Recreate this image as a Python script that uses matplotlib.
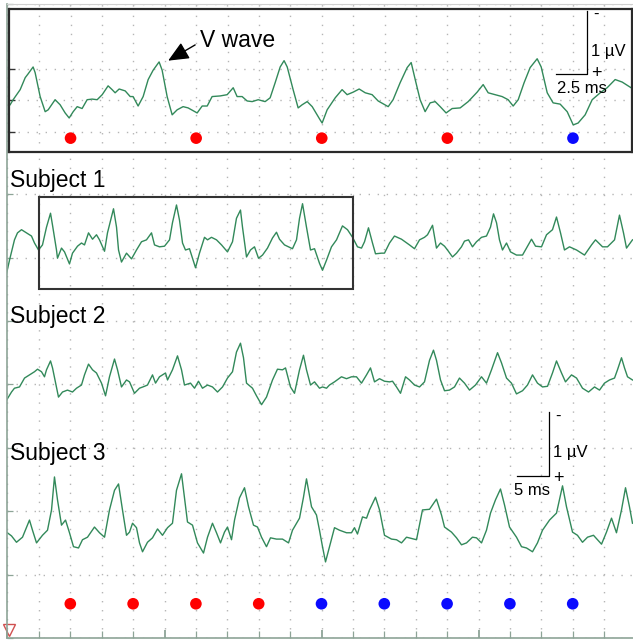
#!/usr/bin/env python3
"""
ABR traces for three subjects, with a zoomed window of Subject 1 on top
"""

import numpy as np
import matplotlib
matplotlib.use('Agg')
import matplotlib.pyplot as plt
from matplotlib.patches import Rectangle
from matplotlib.ticker import MultipleLocator

plt.rcParams['font.family'] = ['Liberation Sans', 'DejaVu Sans']

# ---- data (time in ms, amplitude in µV) ----
s1_t = [-0.2, 0.32, 1.11, 1.59, 2.23, 3.03, 3.82, 4.30, 4.94, 5.57, 6.21, 6.85, 7.17, 7.80, 7.96, 8.60,
        9.08, 9.87, 10.35, 11.15, 11.78, 12.26, 12.90, 13.54, 14.17, 14.65, 15.45, 15.92, 16.88, 17.36,
        17.68, 18.15, 18.95, 19.75, 20.54, 21.34, 22.13, 22.93, 23.41, 24.20, 25.0, 25.80, 26.27, 26.91,
        27.39, 27.87, 28.34, 28.98, 29.94, 30.57, 31.37, 31.85, 32.48, 33.28, 34.08, 35.03, 35.83, 36.46,
        37.10, 37.42, 38.06, 38.69, 39.33, 39.97, 40.61, 41.40, 42.20, 42.83, 43.31, 44.11, 44.75, 45.38,
        46.02, 46.50, 46.98, 47.61, 48.25, 48.89, 49.68, 50.16, 50.80, 51.59, 52.39, 52.87, 53.34, 54.14,
        54.94, 55.73, 56.37, 56.85, 57.48, 58.12, 58.60, 59.55, 60.03, 60.83, 61.62, 62.74, 64.01, 64.81,
        65.61, 66.40, 66.88, 67.68, 68.31, 68.95, 69.59, 70.06, 70.86, 71.50, 72.29, 72.77, 73.41, 74.04,
        74.68, 75.48, 76.27, 76.91, 77.39, 77.87, 78.34, 78.82, 79.46, 80.10, 81.05, 82.01, 82.64, 83.44,
        84.08, 85.03, 85.83, 86.78, 87.42, 88.06, 88.69, 89.49, 90.61, 91.88, 93.0, 93.63, 94.75, 95.54,
        96.66, 97.45, 98.09, 98.57, 99.52]
s1_v = [5.73, 5.96, 6.28, 6.39, 6.44, 6.39, 6.34, 6.23, 6.12, 6.20, 6.48, 6.70, 6.51, 6.12, 5.99, 6.15,
        6.09, 5.90, 6.07, 6.18, 6.23, 6.20, 6.39, 6.29, 6.36, 6.28, 6.10, 6.39, 6.77, 6.48,
        6.12, 5.93, 6.07, 5.98, 6.12, 6.25, 6.28, 6.39, 6.20, 6.17, 6.18, 6.28, 6.55, 6.83,
        6.59, 6.23, 6.12, 6.14, 5.84, 6.07, 6.32, 6.28, 6.32, 6.28, 6.20, 6.09, 6.25, 6.62,
        6.75, 6.48, 6.01, 6.12, 6.17, 5.99, 6.04, 6.15, 6.31, 6.40, 6.29, 6.20, 6.17, 6.14,
        6.28, 6.62, 6.85, 6.48, 6.12, 6.14, 5.91, 5.80, 5.96, 6.17, 6.28, 6.39, 6.50, 6.44,
        6.32, 6.17, 6.15, 6.25, 6.47, 6.23, 6.06, 6.07, 6.07, 6.23, 6.34, 6.29, 6.20, 6.14,
        6.28, 6.32, 6.36, 6.51, 6.15, 6.23, 6.18, 6.12, 6.01, 6.07, 6.17, 6.26, 6.28, 6.17,
        6.25, 6.32, 6.34, 6.48, 6.69, 6.55, 6.28, 6.12, 6.23, 6.09, 6.04, 6.04, 6.15, 6.29,
        6.18, 6.17, 6.36, 6.44, 6.64, 6.39, 6.12, 6.17, 6.12, 6.04, 6.20, 6.28, 6.17, 6.17,
        6.28, 6.67, 6.39, 6.15, 6.28]

s2_t = [-0.16, 0.64, 1.11, 1.91, 2.71, 3.50, 4.30, 4.78, 5.41, 5.89, 6.21, 6.85, 7.17, 7.80, 8.12, 8.76,
        9.55, 10.35, 10.99, 11.78, 12.26, 12.90, 13.54, 14.17, 14.97, 15.61, 16.24, 17.04, 17.52, 18.15,
        18.95, 19.43, 20.22, 21.02, 21.82, 22.29, 23.09, 23.57, 24.20, 25.16, 25.48, 26.27, 27.07, 27.71,
        28.18, 29.14, 29.78, 30.41, 31.05, 31.85, 32.64, 33.44, 34.24, 35.03, 35.83, 36.46, 37.10, 37.58,
        38.06, 39.01, 39.65, 40.45, 41.24, 42.20, 42.99, 43.79, 44.27, 45.06, 45.70, 46.50, 47.13, 47.61,
        48.25, 48.89, 49.68, 50.16, 50.80, 51.27, 52.07, 53.18, 53.98, 54.78, 55.57, 56.37, 57.17, 57.80,
        58.44, 59.24, 60.03, 60.83, 61.31, 61.94, 62.58, 63.38, 64.01, 64.81, 65.61, 66.40, 67.20, 67.83,
        68.31, 68.95, 69.59, 70.38, 71.18, 71.97, 72.77, 73.57, 74.52, 75.48, 76.27, 77.07, 78.03, 78.66,
        79.46, 80.25, 81.05, 82.01, 82.80, 83.60, 84.39, 85.19, 85.99, 86.78, 87.42, 88.22, 88.85, 89.81,
        90.61, 91.56, 92.52, 93.47, 94.27, 95.06, 95.86, 96.66, 97.13, 97.77, 98.25, 98.73, 99.52]
s2_v = [3.75, 3.88, 3.94, 3.96, 4.10, 4.15, 4.20, 4.24, 4.20, 4.12, 4.23, 4.37, 4.26, 3.96, 3.80, 3.88,
        3.91, 3.88, 3.94, 3.99, 4.15, 4.32, 4.23, 4.18, 4.02, 3.82, 4.12, 4.40, 4.23, 3.96,
        4.07, 4.04, 3.86, 3.94, 3.97, 3.99, 4.15, 4.02, 4.12, 4.18, 4.07, 4.23, 4.45, 4.23,
        3.99, 4.02, 3.94, 4.05, 3.94, 3.99, 3.96, 3.88, 3.96, 4.10, 4.20, 4.51, 4.65, 4.42,
        4.02, 3.94, 3.82, 3.68, 3.80, 4.07, 4.24, 4.23, 4.26, 3.96, 3.86, 4.23, 4.46, 4.23,
        3.99, 4.04, 3.94, 3.96, 3.94, 3.99, 4.04, 4.12, 4.09, 4.12, 4.12, 4.02, 4.15, 4.26,
        4.04, 4.09, 4.05, 4.04, 4.05, 3.96, 3.86, 4.12, 4.07, 3.99, 3.96, 4.04, 4.38, 4.54,
        4.38, 4.07, 3.90, 3.91, 3.96, 4.10, 4.02, 3.91, 3.99, 4.12, 4.02, 4.23, 4.50, 4.34,
        4.10, 4.02, 3.85, 3.90, 3.99, 4.15, 4.02, 3.96, 3.97, 4.18, 4.37, 4.18, 4.04, 4.15,
        4.10, 3.94, 3.88, 3.96, 3.91, 4.02, 4.07, 4.10, 4.23, 4.42, 4.26, 4.12, 4.07]

s3_t = [-0.16, 0.64, 1.43, 2.39, 3.50, 3.98, 4.62, 5.57, 6.37, 7.01, 7.48, 7.96, 8.60, 9.24, 9.87, 10.51,
        11.31, 11.94, 12.74, 13.85, 14.65, 15.45, 16.24, 17.04, 17.68, 18.31, 18.95, 19.43, 19.91, 20.54,
        21.02, 21.50, 22.29, 23.09, 23.89, 24.68, 25.48, 26.27, 26.91, 27.71, 28.18, 28.66, 29.46, 30.25,
        31.21, 31.85, 32.64, 33.28, 33.92, 34.55, 35.03, 35.67, 36.15, 36.94, 37.74, 38.38, 39.17, 39.81,
        40.45, 41.24, 41.88, 42.83, 43.79, 44.75, 45.38, 46.50, 47.13, 47.61, 48.41, 49.20, 49.68, 50.16,
        50.64, 51.27, 52.07, 52.87, 53.98, 54.78, 55.25, 55.73, 56.53, 57.17, 57.64, 58.60, 59.24, 60.03,
        61.15, 61.94, 62.74, 63.54, 65.13, 66.08, 67.20, 68.31, 69.11, 69.59, 70.70, 71.50, 72.29, 73.09,
        74.04, 74.68, 75.48, 76.27, 76.91, 77.71, 78.50, 79.14, 79.94, 81.05, 81.85, 82.64, 83.60, 84.39,
        85.19, 86.31, 87.42, 88.38, 89.01, 89.97, 90.76, 91.56, 92.36, 93.31, 94.59, 95.38, 96.18, 96.97,
        97.77, 98.41, 99.04, 99.52]
s3_v = [1.67, 1.61, 1.51, 1.59, 1.86, 1.70, 1.50, 1.62, 1.70, 2.02, 2.54, 2.18, 1.78, 1.86, 1.66, 1.44,
        1.42, 1.55, 1.59, 1.75, 1.66, 1.59, 2.02, 2.33, 2.43, 2.02, 1.62, 1.67, 1.81, 1.74,
        1.50, 1.36, 1.51, 1.58, 1.72, 1.62, 1.74, 1.81, 2.33, 2.59, 2.22, 1.83, 1.78, 1.50,
        1.34, 1.59, 1.81, 1.66, 1.50, 1.67, 1.75, 1.55, 1.86, 2.21, 2.37, 2.07, 1.78, 1.75,
        1.59, 1.44, 1.58, 1.56, 1.56, 1.50, 1.70, 1.89, 2.22, 2.51, 2.07, 1.94, 1.70, 1.44,
        1.20, 1.44, 1.74, 1.70, 1.66, 1.66, 1.74, 1.64, 1.91, 1.89, 2.02, 2.22, 2.02, 1.62,
        1.56, 1.55, 1.50, 1.59, 1.55, 2.02, 2.03, 2.19, 1.94, 1.75, 1.67, 1.58, 1.47, 1.50,
        1.59, 1.58, 1.50, 1.70, 1.97, 2.18, 2.35, 2.10, 1.75, 1.59, 1.44, 1.42, 1.36, 1.50,
        1.70, 1.86, 1.97, 2.40, 2.07, 1.67, 1.62, 1.51, 1.59, 1.62, 1.48, 1.67, 1.89, 1.66,
        2.02, 2.37, 2.07, 1.81]

# zoomed window (Subject 1, 5-55 ms)
zoom_t = [5.19, 5.43, 5.99, 6.39, 6.62, 7.02, 7.18, 7.58, 7.98, 8.22, 8.77, 9.17, 9.57, 9.89, 10.21, 10.53,
          10.92, 11.32, 11.72, 12.12, 12.52, 12.99, 13.31, 13.55, 13.87, 14.35, 14.75, 14.98, 15.38, 15.78,
          16.18, 16.58, 17.05, 17.29, 17.69, 18.09, 18.49, 18.96, 19.36, 20.08, 20.48, 20.88, 21.27, 21.91,
          22.47, 22.95, 23.26, 23.66, 24.06, 24.46, 24.94, 25.49, 25.89, 26.29, 26.69, 27.0, 27.25, 27.72,
          28.12, 28.44, 28.84, 29.24, 29.63, 29.87, 30.03, 30.43, 31.07, 31.62, 32.02, 32.5, 32.98, 33.46,
          34.01, 34.49, 35.29, 35.68, 36.24, 36.8, 37.12, 37.44, 37.83, 38.23, 38.63, 39.03, 39.43, 39.9,
          40.38, 41.02, 41.66, 42.37, 42.85, 43.25, 43.8, 44.36, 44.84, 45.24, 45.64, 46.11, 46.59, 47.15,
          47.47, 47.95, 48.42, 48.98, 49.54, 50.02, 50.41, 50.97, 51.53, 52.17, 52.72, 53.36, 53.92, 54.39,
          54.79]
zoom_v = [0.93, 1.01, 1.17, 1.36, 1.42, 1.53, 1.44, 1.06, 0.82, 0.85, 1.01, 0.93, 0.80, 0.72, 0.82, 0.90,
          0.87, 1.01, 1.02, 1.01, 1.09, 1.23, 1.17, 1.12, 1.18, 1.15, 1.06, 1.06, 0.91, 1.06,
          1.33, 1.48, 1.61, 1.48, 1.06, 0.77, 0.85, 0.90, 0.88, 0.80, 0.91, 0.91, 1.06, 1.07,
          1.09, 1.20, 1.06, 1.06, 0.99, 0.98, 1.01, 0.98, 1.04, 1.28, 1.53, 1.63, 1.53, 1.17,
          0.88, 0.93, 0.98, 0.90, 0.77, 0.69, 0.64, 0.85, 1.04, 1.17, 1.09, 1.13, 1.18, 1.12,
          1.09, 0.99, 0.90, 1.01, 1.28, 1.52, 1.60, 1.33, 1.01, 0.82, 0.96, 0.98, 0.90, 0.80,
          0.87, 0.88, 0.98, 1.13, 1.25, 1.12, 1.09, 1.06, 1.01, 0.91, 1.01, 1.28, 1.52, 1.66,
          1.53, 1.12, 0.96, 0.94, 0.82, 0.61, 0.64, 0.77, 1.01, 1.12, 1.20, 1.33, 1.29, 1.23,
          1.18]

dot_times = [10, 20, 30, 40, 50, 60, 70, 80, 90]
dot_colors = ['#ff0000', '#ff0000', '#ff0000', '#ff0000',
              '#0a0aff', '#0a0aff', '#0a0aff', '#0a0aff', '#0a0aff']
zoom_window = (5, 55)

TRACE = '#32895a'
GRID = '#b5b5b5'
SPINE = '#8da497'
DOTTED = (0, (1, 5.5))


def main():
    fig = plt.figure(figsize=(6.33, 6.40), dpi=100, facecolor='white')
    W, H = 633, 640

    # ---- main axes: 0-100 ms, 0-10 µV ----
    ax = fig.add_axes([7.5 / W, 2 / H, 628 / W, 634 / H])
    ax.set_xlim(0, 100)
    ax.set_ylim(0, 10)
    ax.xaxis.set_major_locator(MultipleLocator(25))
    ax.xaxis.set_minor_locator(MultipleLocator(5))
    ax.yaxis.set_major_locator(MultipleLocator(1))
    ax.set_xticklabels([])
    ax.set_yticklabels([])
    ax.tick_params(which='major', direction='in', length=6, width=1.3, color=SPINE)
    ax.tick_params(which='minor', direction='in', length=5, width=0.9, color=SPINE)
    ax.tick_params(axis='y', length=4, width=0.9)
    ax.set_axisbelow(True)
    ax.grid(True, axis='x', which='both', color=GRID, linestyle=DOTTED, lw=1)
    ax.grid(True, axis='y', which='major', color=GRID, linestyle=DOTTED, lw=1)
    for side in ['left', 'bottom']:
        ax.spines[side].set_color(SPINE)
        ax.spines[side].set_linewidth(1.2)
    ax.spines['top'].set_color('#d0d0d0')
    ax.spines['right'].set_visible(False)

    for t, v in [(s1_t, s1_v), (s2_t, s2_v), (s3_t, s3_v)]:
        ax.plot(t, v, color=TRACE, lw=1.0)

    dot_y = np.full(len(dot_times), 0.54)
    ax.scatter(dot_times, dot_y, s=70, c=dot_colors, zorder=4, linewidths=0)

    # trigger marker
    ax.plot([0.3], [0.12], marker='v', ms=8, mfc='none', mec='#d05050', mew=1, clip_on=False)

    for label, y in [('Subject 1', 7.11), ('Subject 2', 4.97), ('Subject 3', 2.81)]:
        ax.text(0.35, y, label, fontsize=16.5, ha='left', va='baseline', color='black')

    # box marking the zoomed window on Subject 1
    ax.add_patch(Rectangle((zoom_window[0], 5.5), zoom_window[1] - zoom_window[0], 1.46,
                           fill=False, ec='#333333', lw=1.5, zorder=5))

    # scale bar (5 ms, 1 µV)
    ax.plot([81.15, 86.15, 86.15], [2.56, 2.56, 3.56], color='black', lw=0.9)
    ax.text(87.6, 3.50, '-', fontsize=12, ha='center', va='center')
    ax.text(86.9, 2.92, '1 µV', fontsize=12, ha='left', va='center')
    ax.text(87.7, 2.52, '+', fontsize=13, ha='center', va='center')
    ax.text(86.4, 2.33, '5 ms', fontsize=12, ha='right', va='center')

    # ---- inset: zoom of Subject 1 ----
    ins = fig.add_axes([9 / W, (H - 152) / H, 623 / W, 143 / H])
    ins.set_facecolor('white')
    ins.set_xlim(5.1, 54.7)
    ins.set_ylim(0.18, 2.45)
    ins.set_xticks(np.arange(7.5, 55, 2.5))
    ins.set_yticks([0.5, 1.0, 1.5])
    ins.set_xticklabels([])
    ins.set_yticklabels([])
    ins.tick_params(axis='x', length=0)
    ins.tick_params(axis='y', direction='in', length=4, width=1, color='#333333')
    ins.set_axisbelow(True)
    ins.grid(True, color=GRID, linestyle=DOTTED, lw=1)
    for sp in ins.spines.values():
        sp.set_color('#2a2a2a')
        sp.set_linewidth(1.6)

    ins.plot(zoom_t, zoom_v, color=TRACE, lw=1.0)
    in_win = [i for i, t in enumerate(dot_times) if zoom_window[0] < t <= zoom_window[1]]
    ins.scatter([dot_times[i] for i in in_win], np.full(len(in_win), 0.40), s=70,
                c=[dot_colors[i] for i in in_win], zorder=4, linewidths=0)

    ins.text(20.3, 1.85, 'V wave', fontsize=16.5, ha='left', va='baseline')
    ins.annotate('', xy=(17.77, 1.63), xytext=(19.92, 1.88),
                 arrowprops=dict(arrowstyle='-|>,head_length=0.9,head_width=0.4',
                                 color='black', lw=1, shrinkA=0, shrinkB=0,
                                 mutation_scale=14))

    # inset scale bar (2.5 ms, 1 µV)
    ins.plot([48.63, 51.13, 51.13], [1.42, 1.42, 2.42], color='black', lw=0.9)
    ins.text(51.84, 2.36, '-', fontsize=12, ha='center', va='center')
    ins.text(51.4, 1.77, '1 µV', fontsize=12, ha='left', va='center')
    ins.text(51.84, 1.43, '+', fontsize=13, ha='center', va='center')
    ins.text(50.74, 1.19, '2.5 ms', fontsize=12, ha='center', va='center')

    plt.savefig('out.png', dpi=100, facecolor='white')
    plt.close()


if __name__ == '__main__':
    main()
